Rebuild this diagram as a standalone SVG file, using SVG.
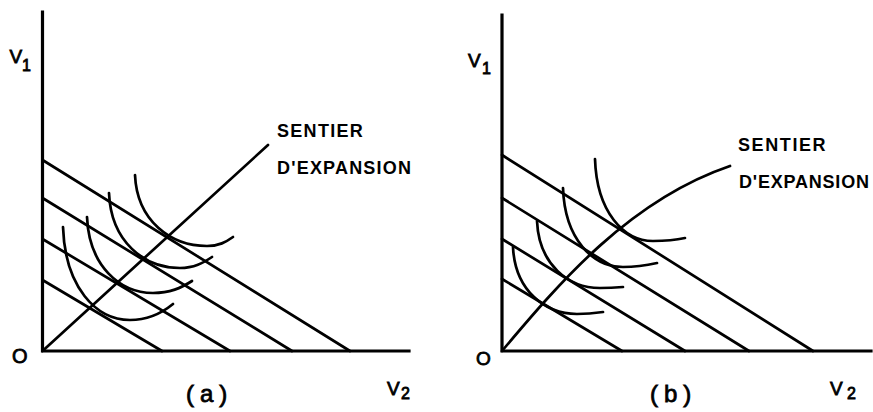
<svg xmlns="http://www.w3.org/2000/svg" width="873" height="412" viewBox="0 0 873 412">
  <style>
    .axis { fill: none; stroke: #000; stroke-width: 3.2; stroke-linecap: square; }
    .line { fill: none; stroke: #000; stroke-width: 2.7; stroke-linecap: round; }
    .curve { fill: none; stroke: #000; stroke-width: 2.7; stroke-linecap: round; }
    .lbl { font-family: "Liberation Sans", Arial, sans-serif; fill: #000; stroke: #000; stroke-width: 0.8; }
    .cap { font-family: "Liberation Sans", Arial, sans-serif; font-weight: bold; font-size: 18px; fill: #000; }
  </style>
  <rect width="873" height="412" fill="#fff"/>

  <!-- Panel (a) -->
  <g id="panel-a">
    <g id="axes-a">
      <polyline class="axis" points="42.5,12 42.5,351 409,351"/>
    </g>
    <g id="budget-lines-a">
      <line class="line" x1="42.5" y1="160" x2="350" y2="351"/>
      <line class="line" x1="42.5" y1="198" x2="292" y2="351"/>
      <line class="line" x1="42.5" y1="239" x2="230" y2="351"/>
      <line class="line" x1="42.5" y1="280" x2="162" y2="351"/>
    </g>
    <g id="indifference-curves-a">
      <path class="curve" d="M135,175 C137,221 171,246 207,246 C219,246 226,242 233,237"/>
      <path class="curve" d="M109,193 C111,242 144.5,268 180,268 C194,268 203,263 212,257"/>
      <path class="curve" d="M87,217 C89,266 120,293 153,293 C170,293 181,288 192,281"/>
      <path class="curve" d="M63,227 C65,287 96,320 130,320 C149,320 162,313 173,304"/>
    </g>
    <g id="expansion-path-a">
      <line class="line" x1="42.5" y1="351" x2="268" y2="145"/>
    </g>
    <g id="labels-a">
      <text class="lbl" x="9.5" y="63" font-size="19">V</text>
      <text class="lbl" x="22" y="71" font-size="16">1</text>
      <text class="lbl" x="12" y="363" font-size="20">O</text>
      <text class="lbl" x="387" y="395" font-size="19">V</text>
      <text class="lbl" x="401" y="399" font-size="16">2</text>
      <text class="lbl" x="186" y="402" font-size="24" letter-spacing="6">(a)</text>
      <text class="cap" x="277" y="137" letter-spacing="1.3">SENTIER</text>
      <text class="cap" x="277" y="174" letter-spacing="1.2">D'EXPANSION</text>
    </g>
  </g>

  <!-- Panel (b) -->
  <g id="panel-b">
    <g id="axes-b">
      <polyline class="axis" points="502,15 502,351 871,351"/>
    </g>
    <g id="budget-lines-b">
      <line class="line" x1="502" y1="155" x2="813" y2="351"/>
      <line class="line" x1="502" y1="198" x2="749" y2="351"/>
      <line class="line" x1="502" y1="239" x2="685" y2="351"/>
      <line class="line" x1="502" y1="279" x2="622" y2="351"/>
    </g>
    <g id="indifference-curves-b">
      <path class="curve" d="M595,159 C596.7,212.3 624,241 653,241 C667,241 676,240 685,238"/>
      <path class="curve" d="M563,188 C564.8,239.4 593,267 623,267 C638,267 648,265 657,263"/>
      <path class="curve" d="M537,221 C538.9,264.6 568.5,288 600,288 C610,288 617,287.5 623,287"/>
      <path class="curve" d="M513,247 C515,290.5 545,314 577,314 C588,314 596,313 603,312"/>
    </g>
    <g id="expansion-path-b">
      <path class="line" d="M502,351 C560,282 630,200 730,166"/>
    </g>
    <g id="labels-b">
      <text class="lbl" x="468" y="67" font-size="19">V</text>
      <text class="lbl" x="482" y="74" font-size="16">1</text>
      <text class="lbl" x="476" y="365" font-size="19">O</text>
      <text class="lbl" x="830" y="395" font-size="19">V</text>
      <text class="lbl" x="847" y="399" font-size="16">2</text>
      <text class="lbl" x="650" y="402" font-size="24" letter-spacing="6">(b)</text>
      <text class="cap" x="738" y="151" letter-spacing="1.6">SENTIER</text>
      <text class="cap" x="739" y="188" letter-spacing="0.8">D'EXPANSION</text>
    </g>
  </g>
</svg>
